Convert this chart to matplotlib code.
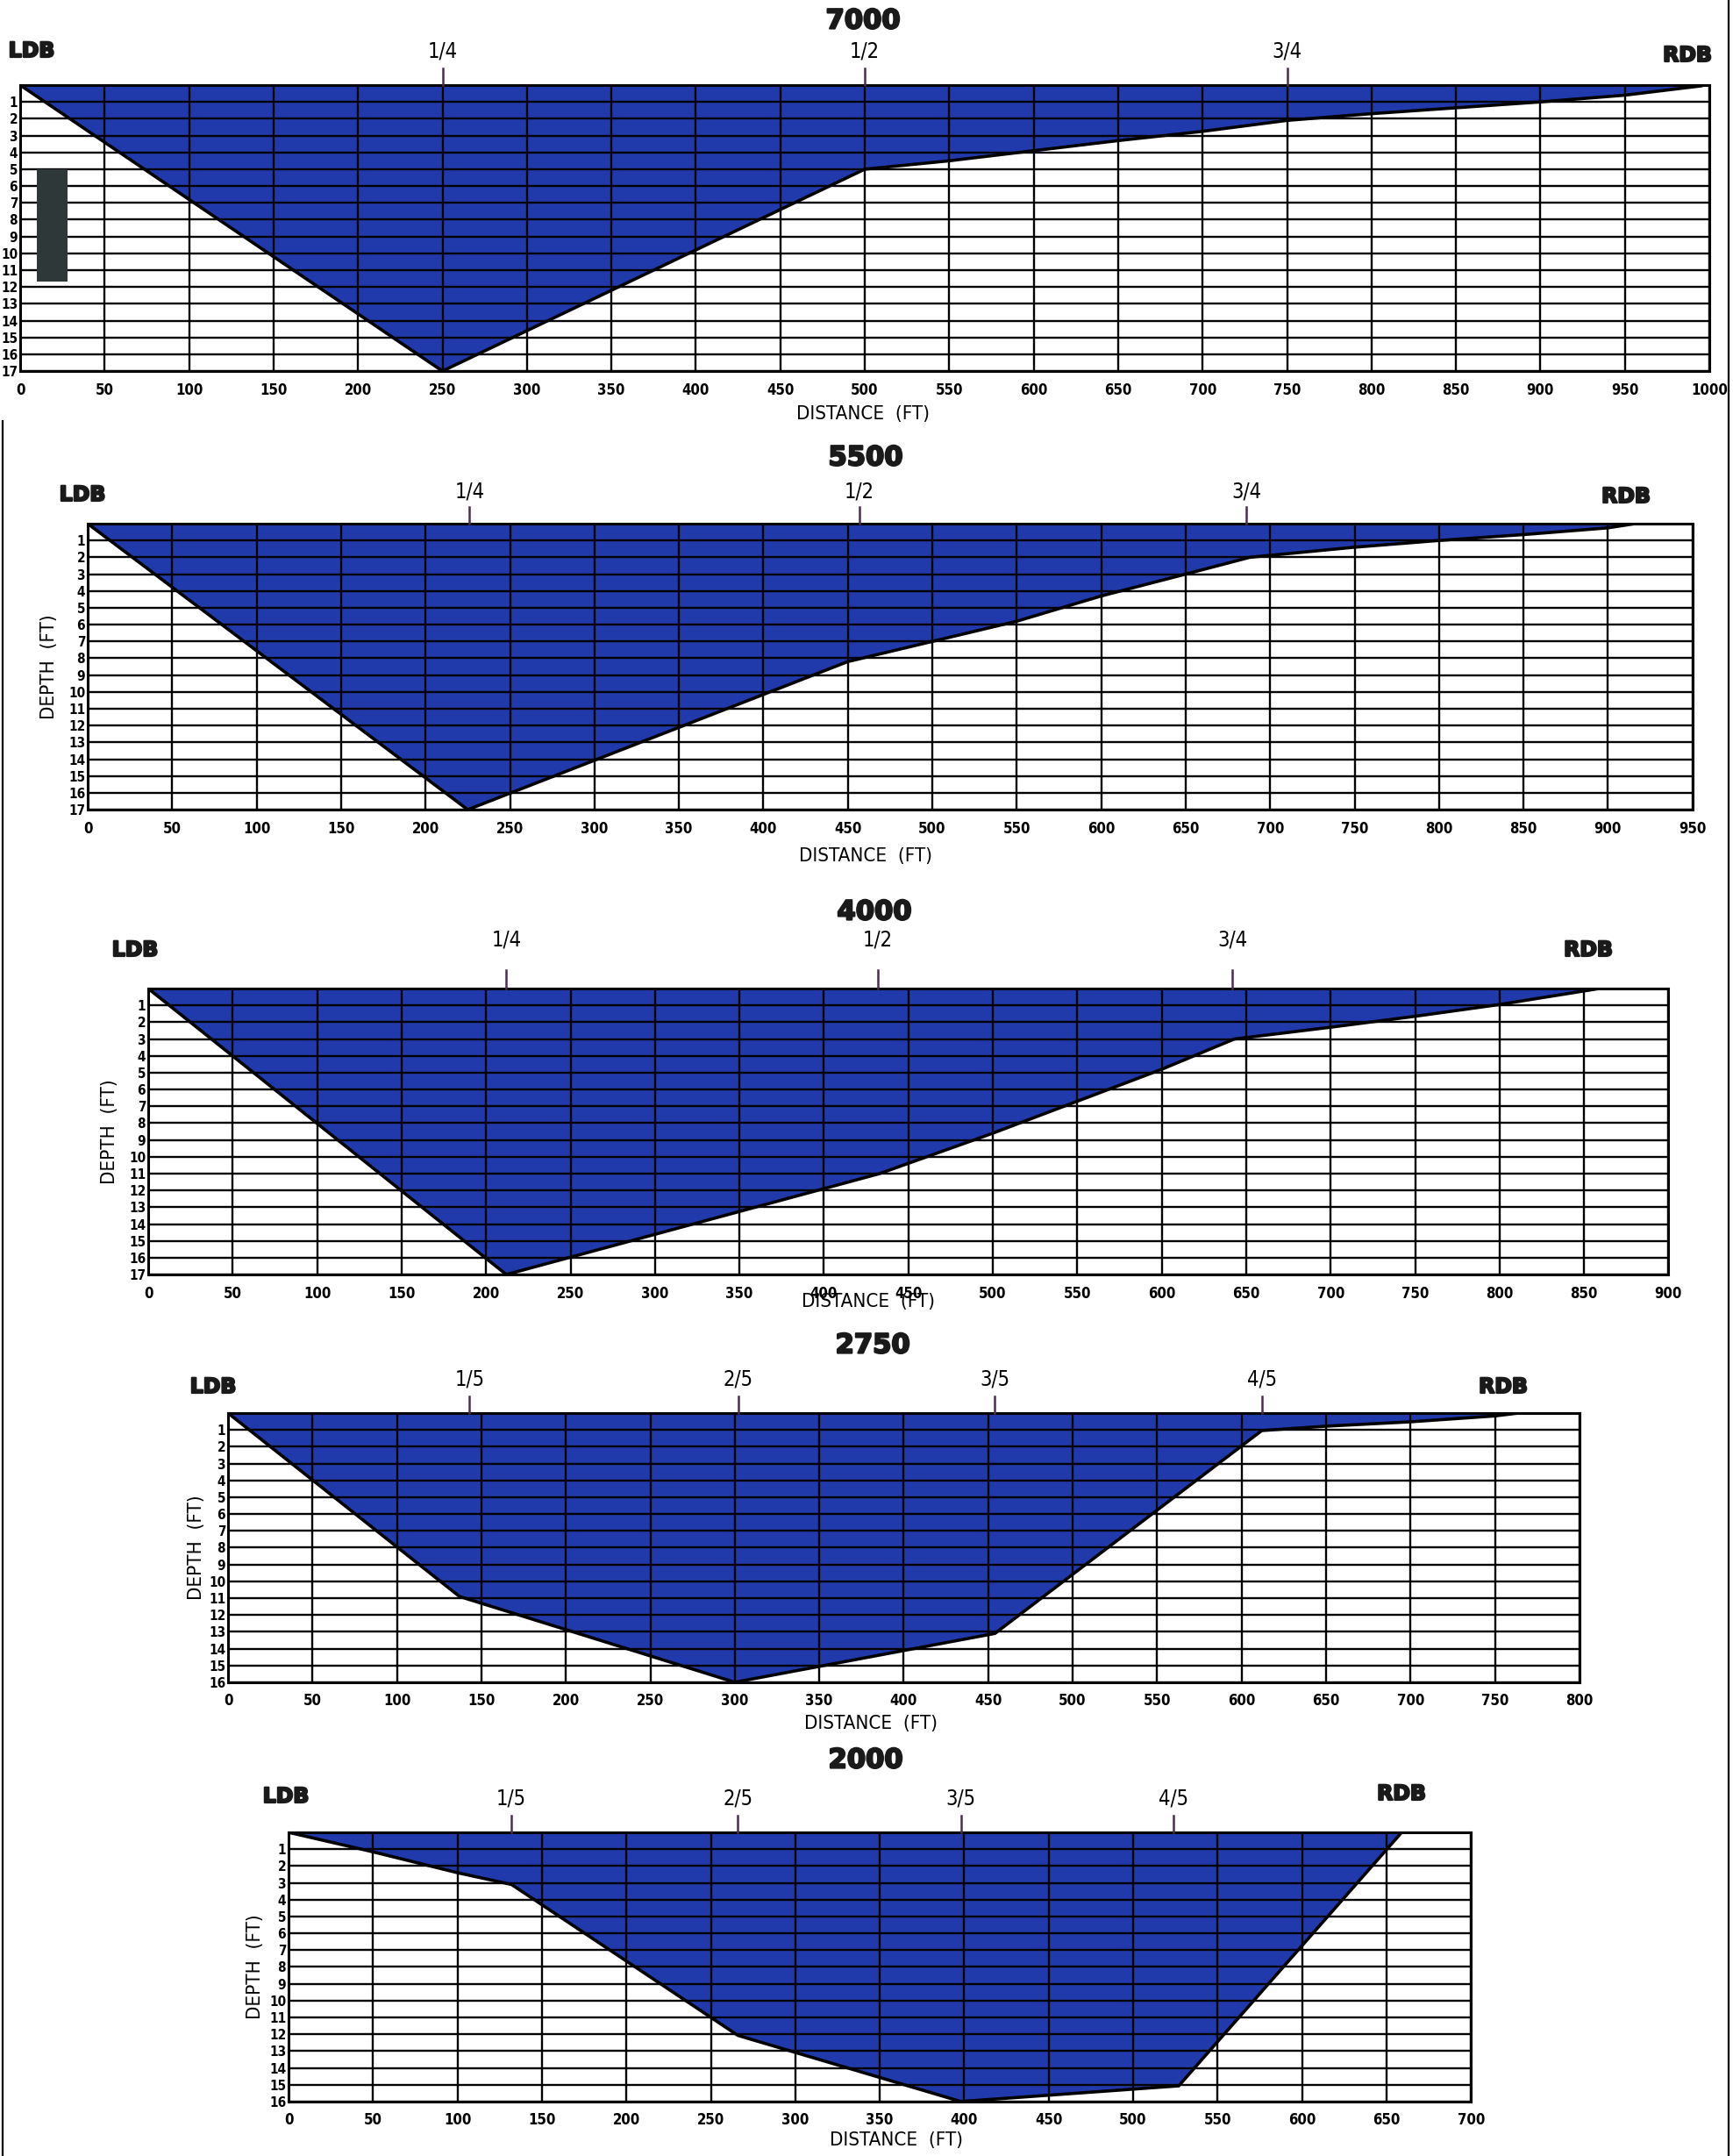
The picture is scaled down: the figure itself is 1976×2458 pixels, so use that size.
import matplotlib
matplotlib.use("Agg")
import matplotlib.pyplot as plt
import matplotlib.patheffects as pe
from matplotlib.lines import Line2D
from matplotlib.patches import Rectangle

FLOWS = ["7000", "5500", "4000", "2750", "2000"]
X_MAX = [1000, 950, 900, 800, 700]
DEPTH_MAX = [17, 17, 17, 16, 16]

# bed profile: distance from left bank (ft) and depth below water surface (ft)
DIST_7000 = [0, 250, 500, 550, 600, 650, 700, 750, 800, 850, 900, 950, 995]
DEPTH_7000 = [0, 17, 5.0, 4.5, 3.9, 3.3, 2.75, 2.1, 1.7, 1.35, 1.0, 0.6, 0.05]

DIST_5500 = [0, 225, 450, 500, 550, 600, 650, 688, 750, 800, 850, 900, 916]
DEPTH_5500 = [0, 17, 8.2, 7.0, 5.8, 4.3, 3.0, 2.0, 1.4, 1.0, 0.65, 0.25, 0.0]

DIST_4000 = [0, 212, 433, 500, 550, 600, 643, 700, 750, 800, 859]
DEPTH_4000 = [0, 17, 11.0, 8.6, 6.7, 4.8, 3.0, 2.3, 1.65, 0.95, 0.0]

DIST_2750 = [0, 137, 300, 454, 612, 650, 700, 750, 764]
DEPTH_2750 = [0, 10.9, 16.0, 13.1, 1.04, 0.78, 0.52, 0.17, 0.0]

DIST_2000 = [0, 50, 100, 132, 266, 398, 527, 659]
DEPTH_2000 = [0, 1.16, 2.4, 3.1, 12.07, 16.0, 15.07, 0.0]

# flow-division markers along the water surface
QUARTERS = ["1/4", "1/2", "3/4"]
FIFTHS = ["1/5", "2/5", "3/5", "4/5"]
FRAC_7000 = [250, 500, 750]
FRAC_5500 = [226, 457, 686]
FRAC_4000 = [212, 432, 642]
FRAC_2750 = [143, 302, 454, 612]
FRAC_2000 = [132, 266, 398, 524]

# blacked-out block on the top section (distance ft, depth ft)
BLOCK_DIST = [10, 28]
BLOCK_DEPTH = [5.0, 11.7]

PROFILES = [
    (DIST_7000, DEPTH_7000, QUARTERS, FRAC_7000),
    (DIST_5500, DEPTH_5500, QUARTERS, FRAC_5500),
    (DIST_4000, DEPTH_4000, QUARTERS, FRAC_4000),
    (DIST_2750, DEPTH_2750, FIFTHS, FRAC_2750),
    (DIST_2000, DEPTH_2000, FIFTHS, FRAC_2000),
]

# ---- page layout (pixels on the 1976 x 2458 page) ----
W, H = 1976, 2458
PX_PER_FT = 1.926
PX_PER_ROW = 19.18

# left, top, LDB xy, RDB xy, title xy, xlabel xy, ylabel x, fraction label offset, fraction tick length
LAYOUT = [
    (23, 97, (36, 58), (1924, 63), (984, 24), (984, 472), None, 39, 19),
    (100, 597, (94, 564), (1854, 566), (987, 522), (987, 976), 56, 36, 19),
    (169, 1127, (154, 1083), (1811, 1083), (997, 1040), (990, 1484), 125, 55, 21),
    (260, 1611, (243, 1581), (1714, 1581), (995, 1534), (993, 1965), 224, 38, 19),
    (329, 2089, (326, 2048), (1598, 2045), (987, 2007), (1022, 2440), 291, 39, 19),
]

BLUE = "#213aab"
NARROW = ["DejaVu Sans"]
HEAVY = ["DejaVu Sans"]
HEAVY_FX = [pe.withStroke(linewidth=1.6, foreground="#1a1a1a")]


def fx(px):
    return px / W


def fy(py):
    return 1 - py / H


fig = plt.figure(figsize=(W / 100, H / 100), dpi=100)
fig.patch.set_facecolor("white")

for i, (flow, (dist, depth, frac_labels, frac_pos), lay) in enumerate(
        zip(FLOWS, PROFILES, LAYOUT)):
    left, top, ldb, rdb, title_xy, xlab_xy, ylab_x, frac_off, frac_len = lay
    xmax = X_MAX[i]
    dmax = DEPTH_MAX[i]
    w_px = xmax * PX_PER_FT
    h_px = dmax * PX_PER_ROW

    ax = fig.add_axes([fx(left), fy(top + h_px), w_px / W, h_px / H])
    ax.set_xlim(0, xmax)
    ax.set_ylim(dmax, 0)

    # water area
    ax.fill(dist, depth, facecolor=BLUE, edgecolor="none", zorder=1)
    ax.plot(dist, depth, color="black", lw=2.6, zorder=3, solid_joinstyle="miter")

    # grid over the water
    ax.set_axisbelow(False)
    ax.set_xticks(range(0, xmax + 1, 50),
                  labels=[str(v) for v in range(0, xmax + 1, 50)],
                  fontsize=12, fontweight="bold", family=NARROW,
                  fontstretch="condensed")
    ax.set_yticks(range(1, dmax + 1),
                  labels=[str(v) for v in range(1, dmax + 1)],
                  fontsize=11, fontweight="bold", family=NARROW,
                  fontstretch="condensed")
    ax.grid(True, color="black", lw=1.7)
    ax.tick_params(axis="x", length=0, pad=9)
    ax.tick_params(axis="y", length=0, pad=2)
    for sp in ax.spines.values():
        sp.set_linewidth(2.2)
        sp.set_zorder(4)

    # flow-division markers
    trans = ax.get_xaxis_transform()
    for lab, xpos in zip(frac_labels, frac_pos):
        ax.plot([xpos, xpos], [1, 1 + frac_len / h_px], transform=trans,
                color="#4b2d4e", lw=1.8, clip_on=False, zorder=5)
        ax.text(xpos, 1 + frac_off / h_px, lab, transform=trans,
                ha="center", va="center", fontsize=17, family=NARROW,
                fontstretch="condensed")

    if i == 0:
        ax.add_patch(Rectangle((BLOCK_DIST[0], BLOCK_DEPTH[0]),
                               BLOCK_DIST[1] - BLOCK_DIST[0],
                               BLOCK_DEPTH[1] - BLOCK_DEPTH[0],
                               facecolor="#2e3838", edgecolor="none", zorder=6))

    fig.text(fx(title_xy[0]), fy(title_xy[1]), flow, ha="center", va="center",
             fontsize=22, fontweight="bold", family=HEAVY, color="#1a1a1a",
             path_effects=HEAVY_FX)
    fig.text(fx(ldb[0]), fy(ldb[1]), "LDB", ha="center", va="center",
             fontsize=17, fontweight="bold", family=HEAVY, color="#1a1a1a",
             path_effects=HEAVY_FX)
    fig.text(fx(rdb[0]), fy(rdb[1]), "RDB", ha="center", va="center",
             fontsize=17, fontweight="bold", family=HEAVY, color="#1a1a1a",
             path_effects=HEAVY_FX)
    fig.text(fx(xlab_xy[0]), fy(xlab_xy[1]), "DISTANCE  (FT)", ha="center",
             va="center", fontsize=16, family=NARROW, fontstretch="condensed")
    if ylab_x is not None:
        fig.text(fx(ylab_x), fy(top + h_px / 2), "DEPTH  (FT)", ha="center",
                 va="center", rotation=90, fontsize=16, family=NARROW,
                 fontstretch="condensed")

# page frame edges
fig.add_artist(Line2D([fx(1971), fx(1971)], [0, 1], color="black", lw=1.6))
fig.add_artist(Line2D([fx(3), fx(3)], [0, fy(480)], color="black", lw=1.6))

fig.savefig("out.png", dpi=100)
